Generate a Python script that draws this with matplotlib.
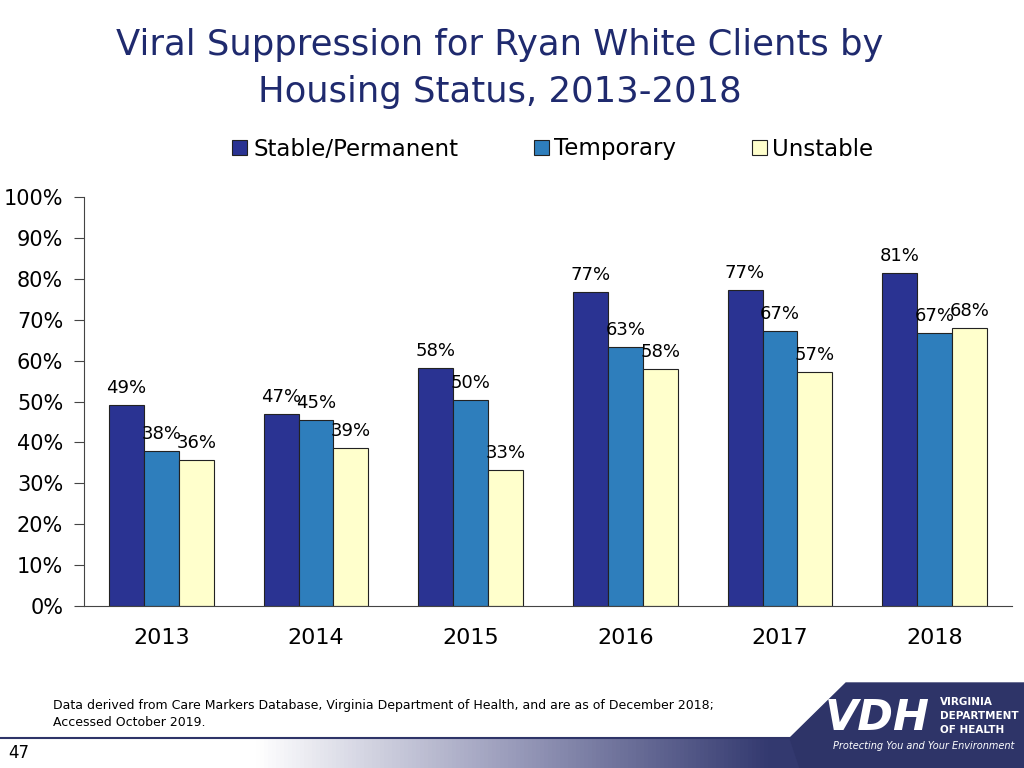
import matplotlib
matplotlib.use("Agg")
import matplotlib.pyplot as plt
import numpy as np
from matplotlib.patches import Polygon
from matplotlib.colors import LinearSegmentedColormap

years = ["2013", "2014", "2015", "2016", "2017", "2018"]
stable = [49.1, 46.9, 58.2, 76.8, 77.3, 81.4]
temporary = [37.9, 45.4, 50.4, 63.3, 67.2, 66.7]
unstable = [35.7, 38.6, 33.3, 57.9, 57.2, 68.0]
series_names = ["Stable/Permanent", "Temporary", "Unstable"]
colors = ["#2A3392", "#2E7EBC", "#FFFFCC"]
yticks = [0, 10, 20, 30, 40, 50, 60, 70, 80, 90, 100]

plt.rcParams['font.family'] = ['DejaVu Sans']
fig = plt.figure(figsize=(10.24, 7.68), dpi=100)
W, H = 1024, 768
ax = fig.add_axes([84 / W, 1 - 606 / H, (1012 - 84) / W, (606 - 197) / H])

x = np.arange(len(years))
bw = 0.226
data = [stable, temporary, unstable]
handles = []
for i, (vals, c, name) in enumerate(zip(data, colors, series_names)):
    pos = x + (i - 1) * bw
    b = ax.bar(pos, vals, width=bw, color=c, edgecolor="#222222", linewidth=0.8, label=name)
    handles.append(b)
    for px, v in zip(pos, vals):
        ax.text(px, v + 2.0, f"{round(v):d}%", ha="center", va="bottom", fontsize=13, color="black")

ax.set_xlim(-0.5, len(years) - 0.5)
ax.set_ylim(0, 100)
ax.set_yticks(yticks)
ax.set_yticklabels([f"{t}%" for t in yticks], fontsize=15)
ax.set_xticks(x)
ax.set_xticklabels(years, fontsize=16)
ax.tick_params(axis="x", length=0, pad=16)
ax.tick_params(axis="y", length=7, direction="out", pad=8, color="#444444")
for s in ["top", "right"]:
    ax.spines[s].set_visible(False)
ax.spines["left"].set_color("#444444")
ax.spines["bottom"].set_color("#444444")

fig.text(0.488, 1 - 45 / H, "Viral Suppression for Ryan White Clients by", ha="center", va="center",
         fontsize=25.5, color="#1F2A6E")
fig.text(0.488, 1 - 92 / H, "Housing Status, 2013-2018", ha="center", va="center",
         fontsize=25.5, color="#1F2A6E")

leg = fig.legend(handles=handles, labels=series_names, loc="center", bbox_to_anchor=(553 / W, 1 - 149 / H),
                 ncol=3, frameon=False, fontsize=16.5, handlelength=0.65, handleheight=0.65,
                 handletextpad=0.25, columnspacing=3.3)

# footer text
fig.text(53 / W, 1 - 706 / H, "Data derived from Care Markers Database, Virginia Department of Health, and are as of December 2018;",
         fontsize=9, va="center", ha="left")
fig.text(53 / W, 1 - 723 / H, "Accessed October 2019.", fontsize=9, va="center", ha="left")

# gradient bar
grad_ax = fig.add_axes([0, 0, 1, 29 / H])
grad = np.linspace(0, 1, 256).reshape(1, -1)
cmap = LinearSegmentedColormap.from_list("g", ["#FFFFFF", "#FFFFFF", "#9A9CBB", "#343A70", "#2E3468"])
grad_ax.imshow(grad, aspect="auto", cmap=cmap, extent=[0, 1, 0, 1])
grad_ax.axis("off")
fig.add_artist(plt.Line2D([0, 1], [30 / H, 30 / H], color="#2E3468", linewidth=1.5))
fig.text(8 / W, 1 - 753 / H, "47", fontsize=12, va="center", ha="left", color="black")

# logo
poly = Polygon([[800 / W, 0], [1, 0], [1, 1 - 683 / H], [846 / W, 1 - 683 / H], [790 / W, 1 - 738 / H]],
               closed=True, transform=fig.transFigure, color="#2E3468", zorder=5)
fig.add_artist(poly)
fig.text(825 / W, 1 - 718 / H, "VDH", fontsize=31, color="white", fontstyle="italic", fontweight="bold",
         va="center", ha="left", zorder=6)
for j, t in enumerate(["VIRGINIA", "DEPARTMENT", "OF HEALTH"]):
    fig.text(940 / W, 1 - (702 + j * 14) / H, t, fontsize=7.5, color="white", fontweight="bold",
             va="center", ha="left", zorder=6)
fig.text(833 / W, 1 - 746 / H, "Protecting You and Your Environment", fontsize=7, color="white",
         fontstyle="italic", va="center", ha="left", zorder=6)

fig.savefig("out.png", dpi=100)
